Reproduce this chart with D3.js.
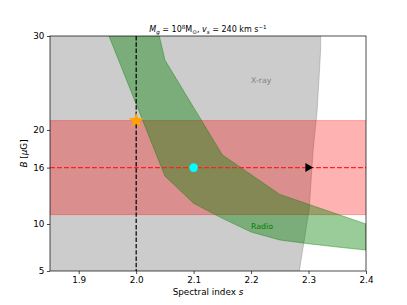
<!DOCTYPE html>
<html><head><meta charset="utf-8">
<script src="https://cdn.jsdelivr.net/npm/d3@7"></script>
<style>body{margin:0;background:#fff}svg{display:block;font-family:"DejaVu Sans",sans-serif}</style>
</head><body><svg id="c" width="407" height="305"></svg>
<script>
// ---- data ----
const sTicks = [1.9, 2.0, 2.1, 2.2, 2.3, 2.4];
const bTicks = [5, 10, 16, 20, 30];
const sDomain = [1.85, 2.4];
const bDomain = [5, 30];
// X-ray allowed region boundary (s as function of B)
const xrayB = [4, 5, 6.2, 11.5, 17.9, 22.1, 28.5, 31];
const xrayS = [2.282, 2.284, 2.287, 2.301, 2.308, 2.315, 2.321, 2.321];
// Radio band
const radioUpperS = [1.95, 2.05, 2.15, 2.25, 2.40];
const radioUpperB = [53.7, 27.45, 17.35, 13.15, 10.0];
const radioLowerS = [1.95, 2.05, 2.10, 2.15, 2.20, 2.25, 2.30, 2.35, 2.40];
const radioLowerB = [30.4, 15.1, 12.2, 10.6, 9.15, 8.3, 7.9, 7.55, 7.23];
// B-field band and fiducial
const bBand = [11, 21];
const bFid = 16;
const sFid = 2.0;
const starPt = [2.0, 21];
const circlePt = [2.1, 16];
const triPt = [2.3, 16];

const W = 407, H = 305;
const L = 50, R = 366, T = 36, B = 271;
const x = d3.scaleLinear().domain(sDomain).range([L, R]);
const y = d3.scaleLinear().domain(bDomain).range([B, T]);
const svg = d3.select("#c");

svg.append("defs").append("clipPath").attr("id", "clip")
  .append("rect").attr("x", L).attr("y", T).attr("width", R - L).attr("height", B - T);
const g = svg.append("g").attr("clip-path", "url(#clip)");

// X-ray grey region
const xrayPoly = xrayB.map((b, i) => [x(xrayS[i]), y(b)]);
const xp = [[x(1.7), y(xrayB[0])], ...xrayPoly, [x(1.7), y(xrayB[xrayB.length - 1])]];
g.append("path").attr("d", d3.line()(xp) + "Z")
  .attr("fill", "grey").attr("fill-opacity", 0.4)
  .attr("stroke", "grey").attr("stroke-opacity", 0.4).attr("stroke-width", 1);

// red band
g.append("rect").attr("x", L - 5).attr("width", R - L + 10)
  .attr("y", y(bBand[1])).attr("height", y(bBand[0]) - y(bBand[1]))
  .attr("fill", "red").attr("fill-opacity", 0.3)
  .attr("stroke", "red").attr("stroke-opacity", 0.3).attr("stroke-width", 1);

// radio band
const up = radioUpperS.map((s, i) => [x(s), y(radioUpperB[i])]);
const lo = radioLowerS.map((s, i) => [x(s), y(radioLowerB[i])]).reverse();
g.append("path").attr("d", d3.line()([...up, ...lo]) + "Z")
  .attr("fill", "green").attr("fill-opacity", 0.4)
  .attr("stroke", "green").attr("stroke-opacity", 0.4).attr("stroke-width", 1);

// dashed lines
g.append("line").attr("x1", L).attr("x2", R).attr("y1", y(bFid)).attr("y2", y(bFid))
  .attr("stroke", "#ff2020").attr("stroke-width", 1.4).attr("stroke-dasharray", "4.9,2.1");
g.append("line").attr("x1", x(sFid)).attr("x2", x(sFid)).attr("y1", T).attr("y2", B)
  .attr("stroke", "black").attr("stroke-width", 1.2).attr("stroke-dasharray", "4.4,1.9");

// markers
svg.append("path").attr("d", d3.symbol().type(d3.symbolStar).size(75)())
  .attr("transform", `translate(${x(starPt[0])},${y(starPt[1])})`).attr("fill", "orange");
svg.append("circle").attr("cx", x(circlePt[0])).attr("cy", y(circlePt[1])).attr("r", 4.3).attr("fill", "cyan");
svg.append("path").attr("d", "M-3.2,-4.5L4.6,0L-3.2,4.5Z")
  .attr("transform", `translate(${x(triPt[0])},${y(triPt[1])})`).attr("fill", "black");

// texts in plot
svg.append("text").attr("x", x(2.2)).attr("y", y(25)).attr("font-size", 7.8).attr("fill", "grey").text("X-ray");
svg.append("text").attr("x", x(2.2)).attr("y", y(9.5)).attr("font-size", 7.8).attr("fill", "green").text("Radio");

// axes
const ax = svg.append("g").attr("transform", `translate(0,${B})`)
  .call(d3.axisBottom(x).tickValues(sTicks).tickFormat(d3.format(".1f")).tickSizeOuter(0).tickSize(3.1).tickPadding(2.5));
const ay = svg.append("g").attr("transform", `translate(${L},0)`)
  .call(d3.axisLeft(y).tickValues(bTicks).tickFormat(d3.format("d")).tickSizeOuter(0).tickSize(3.1).tickPadding(2.5));
[ax, ay].forEach(a => {
  a.select(".domain").remove();
  a.selectAll("line").attr("stroke", "black").attr("stroke-width", 0.7);
  a.selectAll("text").attr("font-size", 8.8).attr("fill", "black").attr("font-family", "DejaVu Sans");
});
// frame
svg.append("rect").attr("x", L).attr("y", T).attr("width", R - L).attr("height", B - T)
  .attr("fill", "none").attr("stroke", "black").attr("stroke-width", 0.7);

// axis labels
const xl = svg.append("text").attr("x", (L + R) / 2).attr("y", 295).attr("text-anchor", "middle").attr("font-size", 8.8);
xl.append("tspan").text("Spectral index ");
xl.append("tspan").attr("font-style", "italic").text("s");
const yl = svg.append("text").attr("transform", `translate(27,${(T + B) / 2}) rotate(-90)`).attr("text-anchor", "middle").attr("font-size", 8.8);
yl.append("tspan").attr("font-style", "italic").text("B");
yl.append("tspan").text(" [");
yl.append("tspan").attr("font-style", "italic").text("μ");
yl.append("tspan").text("G]");

// title
const t = svg.append("text").attr("x", (L + R) / 2).attr("y", 32).attr("text-anchor", "middle").attr("font-size", 8);
t.append("tspan").attr("font-style", "italic").text("M");
t.append("tspan").attr("font-style", "italic").attr("font-size", 5.6).attr("dy", 1.5).text("g");
t.append("tspan").attr("dy", -1.5).text(" = 10");
t.append("tspan").attr("font-size", 5.6).attr("dy", -3).text("8");
t.append("tspan").attr("dy", 3).text("M");
t.append("tspan").attr("font-size", 5.6).attr("dy", 1.5).text("⊙");
t.append("tspan").attr("dy", -1.5).text(",  ");
t.append("tspan").attr("font-style", "italic").text("v");
t.append("tspan").attr("font-style", "italic").attr("font-size", 5.6).attr("dy", 1.5).text("s");
t.append("tspan").attr("dy", -1.5).text(" = 240 km s");
t.append("tspan").attr("font-size", 5.6).attr("dy", -3).text("−1");
</script></body></html>
